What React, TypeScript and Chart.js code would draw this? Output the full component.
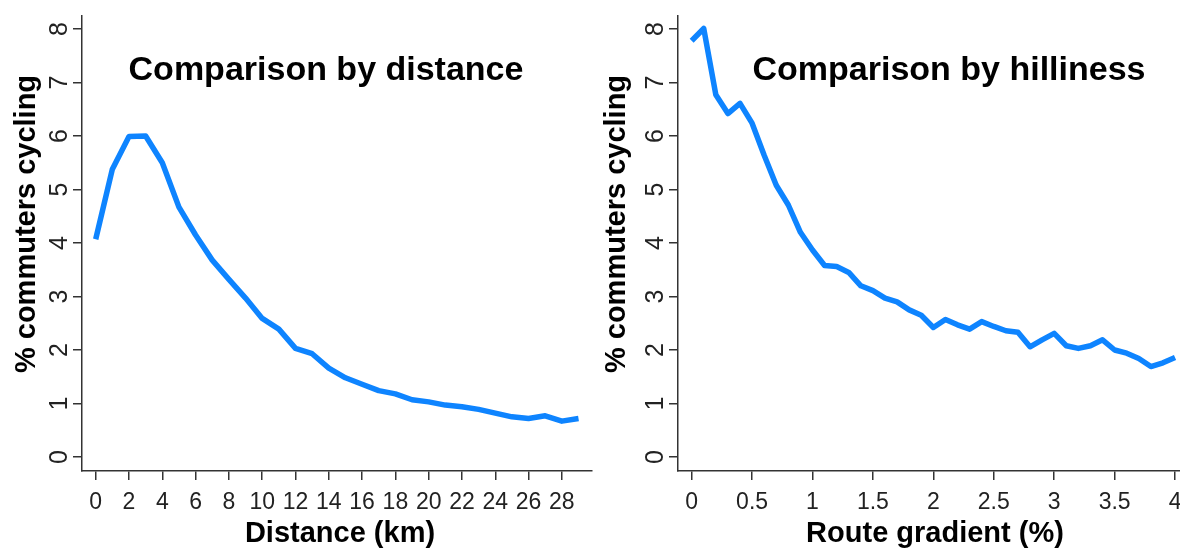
import React, { useEffect, useRef } from "react";
import { Chart, registerables } from "chart.js";

Chart.register(...registerables);

// ---------- data ----------
const distanceKm = [0, 1, 2, 3, 4, 5, 6, 7, 8, 9, 10, 11, 12, 13, 14, 15, 16, 17, 18, 19, 20, 21, 22, 23, 24, 25, 26, 27, 28, 29];
const distanceShare = [4.07, 5.38, 5.99, 6.0, 5.5, 4.67, 4.15, 3.68, 3.32, 2.97, 2.59, 2.39, 2.03, 1.93, 1.66, 1.48, 1.36, 1.24, 1.18, 1.07, 1.03, 0.97, 0.94, 0.89, 0.82, 0.75, 0.72, 0.77, 0.67, 0.72];

const gradientPct = [0, 0.1, 0.2, 0.3, 0.4, 0.5, 0.6, 0.7, 0.8, 0.9, 1.0, 1.1, 1.2, 1.3, 1.4, 1.5, 1.6, 1.7, 1.8, 1.9, 2.0, 2.1, 2.2, 2.3, 2.4, 2.5, 2.6, 2.7, 2.8, 2.9, 3.0, 3.1, 3.2, 3.3, 3.4, 3.5, 3.6, 3.7, 3.8, 3.9, 4.0];
const gradientShare = [7.78, 8.01, 6.77, 6.42, 6.61, 6.24, 5.64, 5.08, 4.71, 4.2, 3.87, 3.58, 3.56, 3.45, 3.2, 3.11, 2.97, 2.9, 2.75, 2.65, 2.42, 2.57, 2.47, 2.39, 2.53, 2.44, 2.36, 2.33, 2.06, 2.19, 2.31, 2.08, 2.03, 2.08, 2.19, 2.0, 1.94, 1.84, 1.69, 1.76, 1.86];

const distanceTicks = [0, 2, 4, 6, 8, 10, 12, 14, 16, 18, 20, 22, 24, 26, 28];
const gradientTicks = [0, 0.5, 1, 1.5, 2, 2.5, 3, 3.5, 4];
const shareTicks = [0, 1, 2, 3, 4, 5, 6, 7, 8];

const yAxisTitle = "% commuters cycling";
const leftTitle = "Comparison by distance";
const rightTitle = "Comparison by hilliness";
const leftXTitle = "Distance (km)";
const rightXTitle = "Route gradient (%)";

// ---------- styles ----------
const LINE_COLOR = "rgb(14,132,255)";
const AXIS_COLOR = "#333333";
const FONT = '"Liberation Sans", Arial, sans-serif';

type PanelCfg = {
  width: number;
  xs: number[];
  ys: number[];
  xTicks: number[];
  xMin: number;
  xMax: number;
  axisLeft: number;
  padRight: number;
  title: string;
  titleX: number;
  xTitle: string;
  xTitleX: number;
};

const textPlugin = {
  id: "panelText",
  afterDraw(chart: any, _args: any, o: any) {
    const ctx = chart.ctx as CanvasRenderingContext2D;
    const xs = chart.scales.x;
    const ys = chart.scales.y;
    ctx.save();
    // x tick labels
    ctx.fillStyle = "#222";
    ctx.font = `23px ${FONT}`;
    ctx.textAlign = "center";
    ctx.textBaseline = "alphabetic";
    for (const v of o.xTicks) {
      ctx.fillText(String(v), xs.getPixelForValue(v), 508.5);
    }
    // y tick labels (rotated)
    ctx.font = `25px ${FONT}`;
    for (const v of o.yTicks) {
      ctx.save();
      ctx.translate(o.axisLeft - 15, ys.getPixelForValue(v));
      ctx.rotate(-Math.PI / 2);
      ctx.textAlign = "center";
      ctx.fillText(String(v), 0, 0);
      ctx.restore();
    }
    // titles
    ctx.fillStyle = "#000";
    ctx.font = `bold 34px ${FONT}`;
    ctx.textAlign = "center";
    ctx.fillText(o.title, o.titleX, 80);
    ctx.font = `bold 29px ${FONT}`;
    ctx.fillText(o.xTitle, o.xTitleX, 542);
    ctx.save();
    ctx.translate(o.yTitleX, 224);
    ctx.rotate(-Math.PI / 2);
    ctx.textAlign = "center";
    ctx.fillText(o.yTitle, 0, 0);
    ctx.restore();
    ctx.restore();
  },
};

function Panel({ cfg, left }: { cfg: PanelCfg; left: number }) {
  const ref = useRef<HTMLCanvasElement | null>(null);
  useEffect(() => {
    if (!ref.current) return;
    const axisCommon = {
      grid: {
        display: true,
        drawOnChartArea: false,
        drawTicks: true,
        tickLength: 9,
        color: AXIS_COLOR,
        lineWidth: 1.5,
      },
      border: { display: true, color: AXIS_COLOR, width: 1.5 },
      ticks: { display: false },
    };
    const chart = new Chart(ref.current, {
      type: "line",
      data: {
        datasets: [
          {
            data: cfg.xs.map((x, i) => ({ x, y: cfg.ys[i] })),
            borderColor: LINE_COLOR,
            borderWidth: 5.5,
            pointRadius: 0,
            tension: 0,
            borderJoinStyle: "round",
            borderCapStyle: "butt",
            fill: false,
          },
        ],
      },
      options: {
        animation: false,
        responsive: false,
        maintainAspectRatio: false,
        layout: {
          autoPadding: false,
          padding: { top: 16, right: cfg.padRight, left: 0, bottom: 0 },
        },
        plugins: {
          legend: { display: false },
          tooltip: { enabled: false },
          title: { display: false },
          panelText: {
            xTicks: cfg.xTicks,
            yTicks: shareTicks,
            axisLeft: cfg.axisLeft,
            title: cfg.title,
            titleX: cfg.titleX,
            xTitle: cfg.xTitle,
            xTitleX: cfg.xTitleX,
            yTitle: yAxisTitle,
            yTitleX: 35,
          },
        } as any,
        scales: {
          x: {
            type: "linear",
            min: cfg.xMin,
            max: cfg.xMax,
            ...axisCommon,
            afterBuildTicks: (s: any) => {
              s.ticks = cfg.xTicks.map((v) => ({ value: v }));
            },
            afterFit: (s: any) => {
              s.height = 548 - 471;
            },
          },
          y: {
            type: "linear",
            min: -0.262,
            max: 8.243,
            ...axisCommon,
            afterBuildTicks: (s: any) => {
              s.ticks = shareTicks.map((v) => ({ value: v }));
            },
            afterFit: (s: any) => {
              s.width = cfg.axisLeft;
            },
          },
        } as any,
      },
      plugins: [textPlugin as any],
    });
    return () => chart.destroy();
  }, [cfg]);
  return (
    <canvas
      ref={ref}
      width={cfg.width}
      height={548}
      style={{ position: "absolute", left, top: 0, width: cfg.width, height: 548 }}
    />
  );
}

const leftCfg: PanelCfg = {
  width: 600,
  xs: distanceKm,
  ys: distanceShare,
  xTicks: distanceTicks,
  xMin: -0.823,
  xMax: 29.81,
  axisLeft: 82,
  padRight: 8,
  title: leftTitle,
  titleX: 326,
  xTitle: leftXTitle,
  xTitleX: 340,
};

const rightCfg: PanelCfg = {
  width: 590,
  xs: gradientPct,
  ys: gradientShare,
  xTicks: gradientTicks,
  xMin: -0.113,
  xMax: 4.041,
  axisLeft: 88,
  padRight: 0,
  title: rightTitle,
  titleX: 359,
  xTitle: rightXTitle,
  xTitleX: 345,
};

export default function App() {
  return (
    <div style={{ position: "absolute", left: 0, top: 0, width: 1180, height: 548, background: "#fff" }}>
      <Panel cfg={leftCfg} left={0} />
      <Panel cfg={rightCfg} left={590} />
    </div>
  );
}
